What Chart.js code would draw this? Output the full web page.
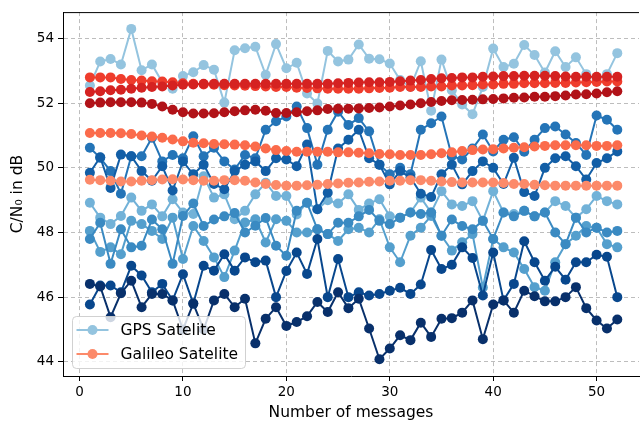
<!DOCTYPE html>
<html>
<head>
<meta charset="utf-8">
<script src="https://cdn.jsdelivr.net/npm/chart.js@4.4.1/dist/chart.umd.min.js"></script>
<style>
   html, body { margin: 0; padding: 0; background: #fff; }
   #wrap { width: 644px; height: 422px; }
</style>
</head>
<body>
<div id="wrap"><canvas id="snrChart" width="644" height="422"></canvas></div>
<script>
// x values: message number
const messages = [
   1, 2, 3, 4, 5, 6, 7, 8, 9, 10,
   11, 12, 13, 14, 15, 16, 17, 18, 19, 20,
   21, 22, 23, 24, 25, 26, 27, 28, 29, 30,
   31, 32, 33, 34, 35, 36, 37, 38, 39, 40,
   41, 42, 43, 44, 45, 46, 47, 48, 49, 50,
   51, 52
];

// GPS satellites, C/N0 in dB
const gpsSat1 = [
   52.55, 53.29, 53.37, 53.20, 54.30, 53.02, 53.20, 52.65, 52.45, 52.84,
   52.96, 53.18, 53.04, 52.02, 53.64, 53.70, 53.75, 52.88, 53.83, 53.08,
   53.25, 52.30, 51.99, 53.62, 53.29, 53.35, 53.82, 53.38, 53.36, 53.23,
   52.72, 52.50, 53.30, 51.77, 53.35, 52.40, 51.96, 51.66, 52.50, 53.69,
   53.12, 53.22, 53.80, 53.49, 52.95, 53.61, 53.12, 53.42, 52.90, 52.70,
   52.90, 53.55
];
const gpsSat2 = [
   48.92, 48.46, 48.26, 48.51, 49.08, 48.67, 48.87, 48.50, 49.03, 48.62,
   48.57, 49.74, 49.08, 49.18, 48.41, 48.67, 49.18, 49.54, 49.13, 49.13,
   48.56, 48.92, 48.72, 49.00, 48.90, 49.18, 48.70, 48.90, 49.03, 48.50,
   48.46, 48.62, 49.08, 48.62, 49.28, 48.87, 48.82, 48.97, 48.36, 49.28,
   48.62, 48.57, 48.67, 48.50, 48.62, 48.97, 48.82, 48.46, 48.72, 49.13,
   48.97, 48.87
];
const gpsSat3 = [
   48.05, 47.40, 47.54, 47.33, 48.36, 48.26, 48.05, 47.80, 48.46, 47.18,
   48.20, 47.74, 47.23, 46.62, 47.44, 48.31, 48.41, 47.69, 48.41, 48.36,
   48.00, 48.00, 48.10, 47.95, 47.74, 48.10, 48.15, 48.00, 48.41, 47.54,
   47.08, 47.90, 48.15, 48.51, 47.90, 47.44, 47.70, 47.95, 46.30, 47.80,
   47.54, 47.38, 46.87, 46.31, 46.20, 47.08, 47.64, 47.90, 48.20, 48.15,
   47.64, 47.54
];
const gpsSat4 = [
   47.80, 48.30, 47.03, 48.10, 47.54, 47.59, 48.40, 48.10, 47.03, 48.51,
   48.90, 48.20, 48.40, 48.50, 48.60, 48.00, 48.21, 48.45, 47.59, 47.28,
   48.67, 48.92, 48.10, 47.95, 48.30, 48.30, 48.50, 48.70, 48.36, 48.26,
   48.46, 48.62, 48.57, 48.62, 47.90, 48.40, 48.20, 48.10, 48.36, 47.80,
   48.62, 48.50, 48.67, 48.50, 48.62, 48.00, 47.64, 48.46, 48.00, 48.15,
   48.00, 48.05
];
const gpsSat5 = [
   50.62, 50.31, 49.90, 49.20, 50.36, 50.36, 50.93, 50.20, 50.40, 50.30,
   50.98, 50.36, 50.62, 50.20, 49.95, 50.40, 50.30, 51.18, 51.44, 51.59,
   51.90, 51.23, 50.10, 51.18, 51.74, 51.33, 51.54, 51.13, 50.10, 49.80,
   50.00, 49.80, 51.18, 51.38, 51.59, 50.36, 50.26, 50.60, 51.03, 50.51,
   50.87, 50.95, 50.50, 50.87, 51.23, 51.28, 51.03, 50.77, 50.40, 51.62,
   51.49, 51.18
];
const gpsSat6 = [
   49.85, 50.33, 49.38, 50.41, 50.36, 49.90, 49.60, 50.05, 49.30, 50.20,
   49.80, 50.10, 49.50, 49.34, 49.90, 50.10, 50.20, 49.90, 50.30, 50.26,
   50.05, 50.72, 48.72, 49.23, 50.60, 50.87, 51.18, 50.30, 50.10, 49.49,
   49.90, 49.70, 49.20, 49.10, 49.80, 50.10, 49.49, 49.90, 50.20, 50.00,
   49.50, 50.31, 49.25, 49.13, 50.00, 50.30, 50.36, 50.05, 49.64, 50.15,
   50.30, 50.51
];
const gpsSat7 = [
   45.77, 46.36, 46.36, 46.15, 46.97, 46.67, 46.15, 46.41, 45.90, 46.71,
   45.80, 46.97, 46.82, 47.33, 46.82, 47.23, 47.08, 47.13, 46.00, 46.81,
   47.38, 46.72, 47.80, 46.00, 47.18, 46.00, 46.15, 46.05, 46.10, 46.20,
   46.29, 46.10, 46.39, 47.46, 46.87, 47.00, 47.54, 47.21, 46.05, 47.38,
   45.90, 46.41, 47.73, 47.08, 46.51, 46.94, 46.54, 47.08, 47.08, 47.31,
   47.25, 46.00
];
const gpsSat8 = [
   46.41, 46.33, 45.38, 46.12, 46.51, 45.69, 46.10, 46.10, 45.90, 45.00,
   45.80, 45.00, 45.90, 46.10, 45.69, 45.95, 44.57, 45.33, 45.69, 45.11,
   45.23, 45.41, 45.85, 45.54, 46.15, 45.66, 45.95, 45.03, 44.08, 44.41,
   44.82, 44.67, 45.21, 44.77, 45.33, 45.35, 45.52, 45.90, 44.70, 45.77,
   45.90, 45.52, 46.20, 46.03, 45.87, 45.87, 46.00, 46.31, 45.66, 45.28,
   45.03, 45.31
];

// Galileo satellites, C/N0 in dB
const galSat1 = [
   49.63, 49.62, 49.60, 49.58, 49.58, 49.60, 49.62, 49.64, 49.65, 49.64,
   49.62, 49.60, 49.60, 49.62, 49.62, 49.60, 49.55, 49.50, 49.47, 49.45,
   49.45, 49.46, 49.48, 49.50, 49.52, 49.54, 49.55, 49.57, 49.58, 49.60,
   49.60, 49.62, 49.62, 49.60, 49.58, 49.56, 49.55, 49.55, 49.55, 49.55,
   49.53, 49.50, 49.50, 49.48, 49.46, 49.45, 49.45, 49.45, 49.45, 49.45,
   49.45, 49.45
];
const galSat2 = [
   51.08, 51.08, 51.08, 51.07, 51.05, 51.00, 50.97, 50.93, 50.88, 50.82,
   50.78, 50.76, 50.74, 50.73, 50.72, 50.70, 50.66, 50.60, 50.55, 50.52,
   50.50, 50.50, 50.50, 50.50, 50.48, 50.48, 50.47, 50.45, 50.43, 50.42,
   50.40, 50.40, 50.40, 50.42, 50.45, 50.48, 50.52, 50.55, 50.57, 50.58,
   50.60, 50.62, 50.64, 50.66, 50.68, 50.70, 50.70, 50.70, 50.70, 50.68,
   50.68, 50.70
];
const galSat3 = [
   52.80, 52.80, 52.80, 52.75, 52.72, 52.70, 52.68, 52.67, 52.65, 52.62,
   52.60, 52.58, 52.57, 52.56, 52.55, 52.54, 52.53, 52.52, 52.50, 52.50,
   52.48, 52.47, 52.46, 52.45, 52.45, 52.45, 52.45, 52.46, 52.47, 52.48,
   52.50, 52.50, 52.50, 52.52, 52.52, 52.55, 52.55, 52.56, 52.58, 52.58,
   52.60, 52.60, 52.62, 52.62, 52.62, 52.63, 52.63, 52.64, 52.65, 52.66,
   52.67, 52.67
];
const galSat4 = [
   52.35, 52.37, 52.40, 52.42, 52.45, 52.48, 52.50, 52.52, 52.55, 52.57,
   52.58, 52.60, 52.60, 52.60, 52.60, 52.60, 52.60, 52.60, 52.60, 52.60,
   52.60, 52.60, 52.60, 52.60, 52.62, 52.63, 52.64, 52.65, 52.65, 52.66,
   52.68, 52.70, 52.72, 52.75, 52.77, 52.78, 52.80, 52.80, 52.82, 52.83,
   52.84, 52.84, 52.85, 52.85, 52.85, 52.84, 52.83, 52.82, 52.82, 52.82,
   52.82, 52.82
];
const galSat5 = [
   52.00, 52.02, 52.03, 52.03, 52.03, 52.02, 51.98, 51.90, 51.80, 51.72,
   51.68, 51.68, 51.69, 51.72, 51.75, 51.78, 51.80, 51.77, 51.70, 51.70,
   51.72, 51.75, 51.78, 51.82, 51.83, 51.83, 51.84, 51.85, 51.87, 51.90,
   51.93, 51.96, 52.00, 52.04, 52.07, 52.09, 52.10, 52.11, 52.12, 52.13,
   52.15, 52.17, 52.18, 52.20, 52.20, 52.22, 52.24, 52.27, 52.28, 52.30,
   52.34, 52.37
];

const yTickValues = [44, 46, 48, 50, 52, 54];
const xTickValues = [0, 10, 20, 30, 40, 50];

const gpsSeries = [gpsSat1, gpsSat2, gpsSat3, gpsSat4, gpsSat5, gpsSat6, gpsSat7, gpsSat8];
const galSeries = [galSat1, galSat2, galSat3, galSat4, galSat5];

const gpsColors = ['#94c4df', '#72b2d8', '#549fcd', '#3a8ac2', '#2474b7', '#125ea6', '#08478d', '#08306b'];
const galColors = ['#fc8a6a', '#fb6b4b', '#ef3c2c', '#d52221', '#b11218'];

const FONT = "'DejaVu Sans', Verdana, sans-serif";

const totalSets = gpsSeries.length + galSeries.length;
const datasets = [];
let plotIdx = 0;

function makeSet(label, values, color) {
   // later plotted lines go on top, like matplotlib
   const set = {
      label: label,
      data: values.map((v, i) => ({ x: messages[i], y: v })),
      borderColor: color,
      backgroundColor: color,
      pointBackgroundColor: color,
      pointBorderColor: color,
      borderWidth: 2,
      pointRadius: 5,
      pointBorderWidth: 0,
      pointHoverRadius: 5,
      tension: 0,
      fill: false,
      order: totalSets - plotIdx,
   };
   plotIdx++;
   return set;
}

gpsSeries.forEach((vals, i) => datasets.push(makeSet(i === 0 ? 'GPS Satelite' : '', vals, gpsColors[i])));
galSeries.forEach((vals, i) => datasets.push(makeSet(i === 0 ? 'Galileo Satelite' : '', vals, galColors[i])));

// legend box inside the plot + the top spine
const boxLegend = {
   id: 'boxLegend',
   afterDraw(chart) {
      const { ctx, chartArea } = chart;
      ctx.save();

      ctx.strokeStyle = '#000';
      ctx.lineWidth = 1;
      ctx.beginPath();
      ctx.moveTo(chartArea.left, chartArea.top + 0.5);
      ctx.lineTo(chartArea.right, chartArea.top + 0.5);
      ctx.stroke();

      const x0 = chartArea.left + 9.5;
      const y0 = chartArea.bottom - 59.5;
      const w = 173, h = 52, r = 4;
      ctx.beginPath();
      ctx.moveTo(x0 + r, y0);
      ctx.arcTo(x0 + w, y0, x0 + w, y0 + h, r);
      ctx.arcTo(x0 + w, y0 + h, x0, y0 + h, r);
      ctx.arcTo(x0, y0 + h, x0, y0, r);
      ctx.arcTo(x0, y0, x0 + w, y0, r);
      ctx.closePath();
      ctx.fillStyle = 'rgba(255,255,255,0.8)';
      ctx.fill();
      ctx.strokeStyle = 'rgba(204,204,204,0.9)';
      ctx.stroke();

      const entries = [
         { text: 'GPS Satelite', color: gpsColors[0] },
         { text: 'Galileo Satelite', color: galColors[0] },
      ];
      ctx.font = '15.5px ' + FONT;
      ctx.textBaseline = 'middle';
      entries.forEach((e, i) => {
         const yy = y0 + 13.5 + i * 24;
         ctx.strokeStyle = e.color;
         ctx.lineWidth = 2;
         ctx.beginPath();
         ctx.moveTo(x0 + 4, yy);
         ctx.lineTo(x0 + 36, yy);
         ctx.stroke();
         ctx.fillStyle = e.color;
         ctx.beginPath();
         ctx.arc(x0 + 20, yy, 5, 0, Math.PI * 2);
         ctx.fill();
         ctx.fillStyle = '#000';
         ctx.fillText(e.text, x0 + 48, yy + 1);
      });
      ctx.restore();
   }
};

const gridStyle = {
   color: '#bdbdbd',
   lineWidth: 1,
   tickColor: '#000',
   tickLength: 5,
   tickBorderDash: [],
};

const config = {
   type: 'line',
   data: { datasets: datasets },
   options: {
      responsive: false,
      animation: false,
      devicePixelRatio: 1,
      layout: { padding: { top: 10, right: 0, bottom: 0, left: 0 } },
      scales: {
         x: {
            type: 'linear',
            min: -1.6,
            max: 54.1,
            afterBuildTicks: (scale) => { scale.ticks = xTickValues.map(v => ({ value: v })); },
            afterFit: (scale) => { scale.height = 46; },
            grid: gridStyle,
            border: { display: true, color: '#000', width: 1, dash: [4, 3] },
            ticks: {
               color: '#000',
               padding: 3,
               maxRotation: 0,
               font: { family: FONT, size: 13.5 },
            },
            title: {
               display: true,
               text: 'Number of messages',
               color: '#000',
               padding: { top: 0, bottom: 0 },
               font: { family: FONT, size: 15.5 },
            }
         },
         y: {
            type: 'linear',
            min: 43.56,
            max: 54.82,
            afterBuildTicks: (scale) => { scale.ticks = yTickValues.map(v => ({ value: v })); },
            afterFit: (scale) => { scale.width = 63; },
            grid: gridStyle,
            border: { display: true, color: '#000', width: 1, dash: [4, 3] },
            ticks: {
               color: '#000',
               padding: 4,
               font: { family: FONT, size: 13.5 },
            },
            title: {
               display: true,
               text: 'C/N\u2080 in dB',
               color: '#000',
               padding: { top: 9, bottom: 0 },
               font: { family: FONT, size: 15.5 },
            }
         }
      },
      plugins: {
         legend: { display: false },
         tooltip: { enabled: false },
      },
   },
   plugins: [boxLegend],
};

const snrChart = new Chart(document.getElementById('snrChart'), config);
</script>
</body>
</html>
